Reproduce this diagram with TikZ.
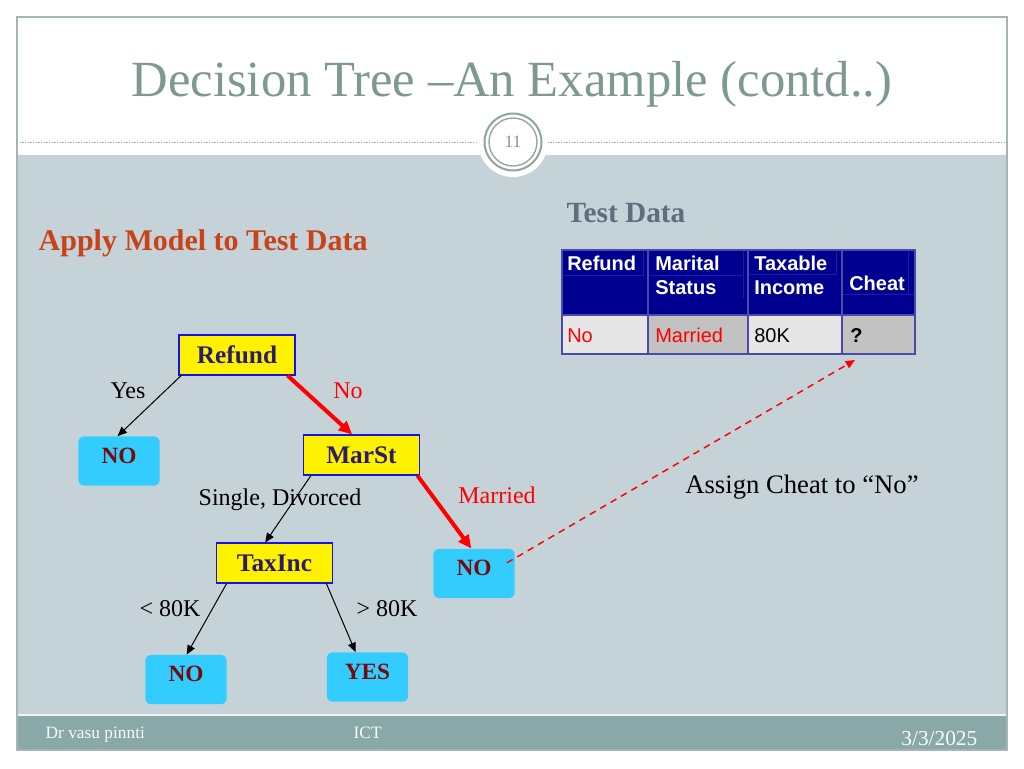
\documentclass[tikz,border=0pt]{standalone}
\usepackage{fontspec}
\setmainfont{Liberation Serif}
\newfontfamily\tabfont{Liberation Sans}
\usetikzlibrary{arrows.meta}

\definecolor{titlegray}{HTML}{7E9894}
\definecolor{ringgray}{HTML}{8FA5A3}
\definecolor{framegray}{HTML}{A3B5B5}
\definecolor{bodygray}{HTML}{C5D2D7}
\definecolor{footgray}{HTML}{89A9A8}
\definecolor{testgray}{HTML}{5E6E7E}
\definecolor{applyred}{HTML}{C8421A}
\definecolor{nodeblue}{HTML}{1414E6}
\definecolor{nodetext}{HTML}{2B1B6B}
\definecolor{leafcyan}{HTML}{33CCFF}
\definecolor{leafred}{HTML}{7A0A0A}
\definecolor{headblue}{HTML}{000090}
\definecolor{gridblue}{HTML}{4A4AA8}
\definecolor{faintblue}{HTML}{1C1CA4}
\definecolor{lightcell}{HTML}{E6E6E6}
\definecolor{darkcell}{HTML}{C2C2C2}

\newcommand{\fsz}[2]{\fontsize{#1}{#2}\selectfont}

\tikzset{
  splitbox/.style={draw=nodeblue, line width=0.8pt, fill=yellow, text=nodetext,
    font=\fsz{19pt}{22pt}\bfseries, minimum width=87pt, minimum height=30pt, inner sep=0pt},
  leafbox/.style={fill=leafcyan, rounded corners=4.5pt, text=leafred,
    font=\fsz{17.5pt}{20pt}\bfseries, minimum width=61pt, text height=20pt,
    text depth=17pt, inner sep=0pt},
  edgelbl/.style={font=\fsz{18pt}{21pt}, inner sep=0pt},
  thinarrow/.style={-{Triangle[length=7pt,width=6pt]}, line width=0.75pt},
  boldarrow/.style={red, -{Triangle[length=10pt,width=9pt]}, line width=3pt},
  headtxt/.style={text=white, font=\tabfont\fsz{15pt}{18pt}\bfseries, align=left, anchor=west, inner sep=0pt},
  datatxt/.style={font=\tabfont\fsz{15pt}{18pt}, anchor=base west, inner sep=0pt},
}

\begin{document}
\begin{tikzpicture}[x=0.75pt,y=-0.75pt]
\useasboundingbox (0,0) rectangle (1024,768);
\fill[white] (0,0) rectangle (1024,768);

\fill[bodygray] (17,155) rectangle (1007,715);
\fill[footgray] (17,715) rectangle (1007,750);
\draw[white!70!bodygray, line width=0.8pt] (17,715) -- (1007,715);
\draw[framegray, line width=1.2pt] (17,17) rectangle (1007,750);

\draw[ringgray, line width=0.6pt, dash pattern=on 1pt off 1pt] (17,142) -- (1007,142);
\fill[white] (513,142) circle (35);
\draw[ringgray, line width=1.5pt] (513,142) circle (28.5);
\draw[ringgray, line width=1pt] (513,142) circle (24);
\node[text=titlegray, font=\fsz{13pt}{15pt}] (pagenum) at (513,142) {11};

\node[text=titlegray, font=\fsz{38pt}{44pt}, anchor=base] (title) at (512,96) {Decision Tree –An Example (contd..)};

\node[text=testgray, font=\fsz{22pt}{26pt}\bfseries, anchor=west] (testdata) at (562,213) {Test Data};
\node[text=applyred, font=\fsz{22.5pt}{26pt}\bfseries, anchor=west] (apply) at (34,243) {Apply Model to Test Data};

\fill[headblue] (562,250) rectangle (915,315);
\fill[lightcell] (562,315) rectangle (648,354);
\fill[darkcell] (648,315) rectangle (748,354);
\fill[lightcell] (748,315) rectangle (842,354);
\fill[darkcell] (842,315) rectangle (915,354);
\draw[faintblue, line width=0.5pt] (562,275) -- (645,275) (643,250) -- (643,275)
  (648,275) -- (742,275) (743,250) -- (743,298)
  (750,274) -- (836,274) (836,250) -- (836,275)
  (842,294) -- (915,294) (908,250) -- (908,294);
\draw[gridblue, line width=1pt] (562,250) rectangle (915,354)
  (562,315) -- (915,315) (648,250) -- (648,354) (748,250) -- (748,354) (842,250) -- (842,354);

\node[headtxt, anchor=base west] (hrefund) at (567,270) {Refund};
\node[headtxt] (hmarital) at (655,275) {Marital\\Status};
\node[headtxt] (htax) at (754,275) {Taxable\\Income};
\node[headtxt, anchor=base west] (hcheat) at (849,290) {Cheat};
\node[datatxt, text=red] (drefund) at (567,342) {No};
\node[datatxt, text=red] (dmarital) at (655,342) {Married};
\node[datatxt] (dtax) at (754,342) {80K};
\node[datatxt, font=\tabfont\fsz{15pt}{18pt}\bfseries] (dcheat) at (850,342) {?};

\node[splitbox] (refund) at (237,355) {Refund};
\node[splitbox] (marst) at (361.5,455) {MarSt};
\node[splitbox] (taxinc) at (274.5,563) {TaxInc};
\node[leafbox] (noyes) at (119,461) {NO};
\node[leafbox] (nomarried) at (474,573.5) {NO};
\node[leafbox] (nolow) at (186,679.5) {NO};
\node[leafbox] (yeshigh) at (367.5,677) {YES};

\draw[thinarrow] ([xshift=2pt]refund.south west) -- ([xshift=-1pt]noyes.north);
\draw[boldarrow] ([xshift=-6pt]refund.south east) -- ([xshift=-7pt]marst.north);
\draw[thinarrow] ([xshift=6pt]marst.south west) -- ([xshift=-7pt]taxinc.north);
\draw[boldarrow] ([xshift=-2pt]marst.south east) -- ([xshift=-2pt]nomarried.north);
\draw[thinarrow] ([xshift=8pt]taxinc.south west) -- ([xshift=0.5pt]nolow.north);
\draw[thinarrow] ([xshift=-5pt]taxinc.south east) -- ([xshift=-9pt]yeshigh.north);

\node[edgelbl] (lyes) at (128,391) {Yes};
\node[edgelbl, text=red] (lno) at (348,391) {No};
\node[edgelbl] (lsingle) at (280,500) {Single, Divorced};
\node[edgelbl, text=red] (lmarried) at (497,495) {Married};
\node[edgelbl] (llow) at (170,609) {< 80K};
\node[edgelbl] (lhigh) at (387,609) {> 80K};

\coordinate (qtip) at (855,360);
\draw[red, line width=1.1pt, dash pattern=on 5pt off 4pt, -{Triangle[length=7pt,width=6pt]}]
  ([xshift=-6pt,yshift=8pt]nomarried.east) -- (qtip);
\node[font=\fsz{20pt}{24pt}, inner sep=0pt] (assign) at (802,487) {Assign Cheat to “No”};

\node[text=white!95!footgray, font=\fsz{13pt}{15pt}, anchor=west] (author) at (41,735) {Dr vasu pinnti};
\node[text=white!95!footgray, font=\fsz{13pt}{15pt}, anchor=west] (course) at (349,733) {ICT};
\node[text=white!95!footgray, font=\fsz{16pt}{18pt}, anchor=east] (date) at (982,738) {3/3/2025};
\end{tikzpicture}
\end{document}
